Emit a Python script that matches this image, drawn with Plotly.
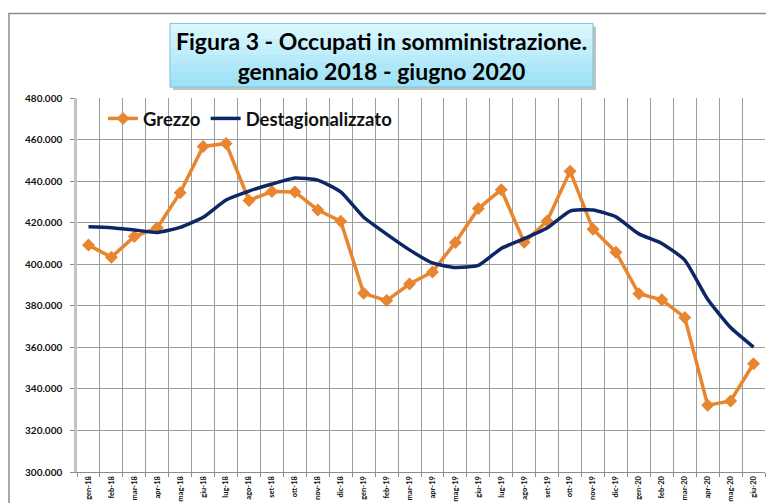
import plotly.graph_objects as go

# mesi (gen-18 ... giu-20)
mesi = ["gen-18", "feb-18", "mar-18", "apr-18", "mag-18", "giu-18", "lug-18", "ago-18",
        "set-18", "ott-18", "nov-18", "dic-18", "gen-19", "feb-19", "mar-19", "apr-19",
        "mag-19", "giu-19", "lug-19", "ago-19", "set-19", "ott-19", "nov-19", "dic-19",
        "gen-20", "feb-20", "mar-20", "apr-20", "mag-20", "giu-20"]

grezzo = [409200, 403400, 413300, 417500, 434400, 456700, 458100, 430700,
          435000, 434800, 426100, 420700, 386000, 382500, 390500, 396300,
          410500, 426800, 435900, 410600, 420800, 444800, 416800, 405800,
          385800, 382900, 374400, 332100, 334200, 352100]

destag = [418000, 417600, 416500, 415300, 417700, 422600, 430900, 435200,
          438600, 441500, 440500, 434800, 422600, 414500, 406900, 400600,
          398400, 399400, 407600, 412300, 417400, 425600, 426100, 422800,
          414600, 410000, 402000, 383100, 369500, 360100]

ORANGE = "#E8852F"
NAVY = "#0D2666"
FONT = "Lato"

L, R, T, B = 77, 1, 98, 29
W, H = 766, 503
pw, ph = W - L - R, H - T - B


def px_x(x):
    return (x - L) / pw


def px_y(y):
    return (H - B - y) / ph


fig = go.Figure()
fig.add_trace(go.Scatter(x=mesi, y=grezzo, name="Grezzo", mode="lines+markers",
                         line=dict(color=ORANGE, width=3.5),
                         marker=dict(symbol="diamond", size=10, color=ORANGE)))
fig.add_trace(go.Scatter(x=mesi, y=destag, name="Destagionalizzato", mode="lines",
                         line=dict(color=NAVY, width=3.5, shape="spline", smoothing=0.5)))

shapes = []
# cornice esterna
shapes.append(dict(type="rect", xref="paper", yref="paper",
                   x0=px_x(9), x1=px_x(790), y0=px_y(530), y1=px_y(13),
                   line=dict(color="#8c8c8c", width=1.5), fillcolor="rgba(0,0,0,0)", layer="below"))
# ombra del box titolo
shapes.append(dict(type="rect", xref="paper", yref="paper",
                   x0=px_x(173), x1=px_x(596), y0=px_y(90), y1=px_y(26),
                   line=dict(width=0), fillcolor="rgba(120,120,120,0.45)"))
# box titolo con sfumatura
sfumatura = ["#dbf6fd", "#d2f4fc", "#c9f1fb", "#c0eefa", "#b7ebf9", "#aee8f8", "#a6e5f7", "#9fe2f6"]
top, bot = 23, 87
step = (bot - top) / len(sfumatura)
for i, c in enumerate(sfumatura):
    shapes.append(dict(type="rect", xref="paper", yref="paper",
                       x0=px_x(170), x1=px_x(593),
                       y0=px_y(top + step * (i + 1) + 0.5), y1=px_y(top + step * i),
                       line=dict(width=0), fillcolor=c))
shapes.append(dict(type="rect", xref="paper", yref="paper",
                   x0=px_x(170), x1=px_x(593), y0=px_y(bot), y1=px_y(top),
                   line=dict(color="#78c3dc", width=1), fillcolor="rgba(0,0,0,0)"))

fig.update_layout(
    width=W, height=H,
    margin=dict(l=L, r=R, t=T, b=B),
    paper_bgcolor="white", plot_bgcolor="white",
    separators=",.",
    shapes=shapes,
    showlegend=True,
    legend=dict(orientation="h", x=px_x(103), y=px_y(119), xanchor="left", yanchor="middle",
                bgcolor="rgba(0,0,0,0)", font=dict(family=FONT, size=18.5, color="#111111", weight="bold"),
                itemwidth=30, tracegroupgap=0),
    annotations=[dict(xref="paper", yref="paper", x=px_x(381.5), y=px_y(56),
                      text="Figura 3 - Occupati in somministrazione.<br>gennaio 2018 - giugno 2020",
                      showarrow=False, align="center", xanchor="center", yanchor="middle",
                      font=dict(family=FONT, size=23, color="#000000", weight="bold"))],
    xaxis=dict(type="category", tickson="boundaries", showgrid=True, gridcolor="#9c9c9c", gridwidth=1.3,
               showline=True, linecolor="#8c8c8c", linewidth=1.3,
               ticks="outside", ticklen=4, tickcolor="#8c8c8c",
               tickangle=-90, tickfont=dict(family=FONT, size=7.5, color="#111111", weight="bold"),
               range=[-0.5, 29.5], fixedrange=True),
    yaxis=dict(range=[300000, 480000], dtick=20000, tickformat=",d",
               showgrid=True, gridcolor="#9c9c9c", gridwidth=1.3,
               showline=True, linecolor="#c4c4c4", linewidth=2.5,
               ticks="outside", ticklen=4, tickcolor="#8c8c8c", ticklabelstandoff=6,
               tickfont=dict(family=FONT, size=10, color="#111111", weight="bold"),
               zeroline=False, fixedrange=True),
)

fig.write_html("out.html", config={"displayModeBar": False},
               post_script="document.body.style.margin='0px';")
